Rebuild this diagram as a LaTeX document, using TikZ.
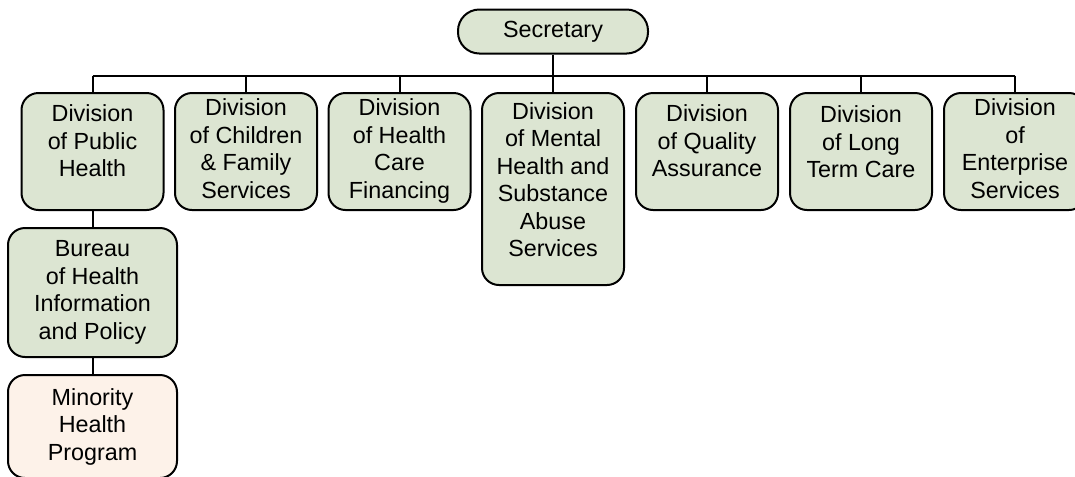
\documentclass[tikz,border=0pt]{standalone}
\usepackage{fontspec}
\setmainfont{Liberation Sans}
\usepackage{tikz}
\usetikzlibrary{positioning}
\definecolor{sage}{HTML}{DCE5D2}
\definecolor{peach}{HTML}{FDF2E9}
% lines of a box, with extra room under the last one
\newcommand{\boxlines}[2]{\begin{tabular}{@{}c@{}}#1\\[#2]\end{tabular}}

\begin{document}
\begin{tikzpicture}[x=0.75pt, y=-0.75pt, line width=1.5pt,
    every node/.style={font=\fontsize{17.5}{20.6}\selectfont, align=center, inner sep=0pt},
    unit/.style={draw, fill=sage, rounded corners=12.75pt, minimum width=106.5pt, minimum height=87.75pt}]
  \useasboundingbox (0,0) rectangle (1075,476);
  \node[draw,fill=sage,rounded corners=16pt,minimum width=142.5pt,minimum height=33pt] (sec) at (553,31.5) {Secretary};
  \coordinate (bus) at (553,75.5);
  % divisions
  \node[unit] (pub) at (92.5,151.5) {\boxlines{Division\\of Public\\Health}{12pt}};
  \node[unit] (cfs) at (246,151.5) {\boxlines{Division\\of Children\\\& Family\\Services}{0pt}};
  \node[unit] (hcf) at (399.5,151.5) {\boxlines{Division\\of Health\\Care\\Financing}{0pt}};
  \node[unit,minimum height=144pt] (mh) at (553,189) {\boxlines{Division\\of Mental\\Health and\\Substance\\Abuse\\Services}{10pt}};
  \node[unit] (qa) at (707,151.5) {\boxlines{Division\\of Quality\\Assurance}{12pt}};
  \node[unit] (ltc) at (861,151.5) {\boxlines{Division\\of Long\\Term Care}{10pt}};
  \node[unit] (ent) at (1015,151.5) {\boxlines{Division\\of\\Enterprise\\Services}{0pt}};
  % below public health
  \node[unit,minimum width=126.75pt,minimum height=96.75pt] (bhip) at (92.5,292.5) {Bureau\\of Health\\Information\\and Policy};
  \node[unit,fill=peach,minimum width=126.75pt,minimum height=77.25pt] (mhp) at (92.5,426.5) {Minority\\Health\\Program};
  \draw (sec) -- (bus);
  \draw (bus -| pub.north) -- (bus -| ent.north);
  \foreach \d in {pub,cfs,hcf,mh,qa,ltc,ent}
    \draw (bus -| \d.north) -- (\d);
  \draw (pub) -- (bhip);
  \draw (bhip) -- (mhp);
\end{tikzpicture}
\end{document}
